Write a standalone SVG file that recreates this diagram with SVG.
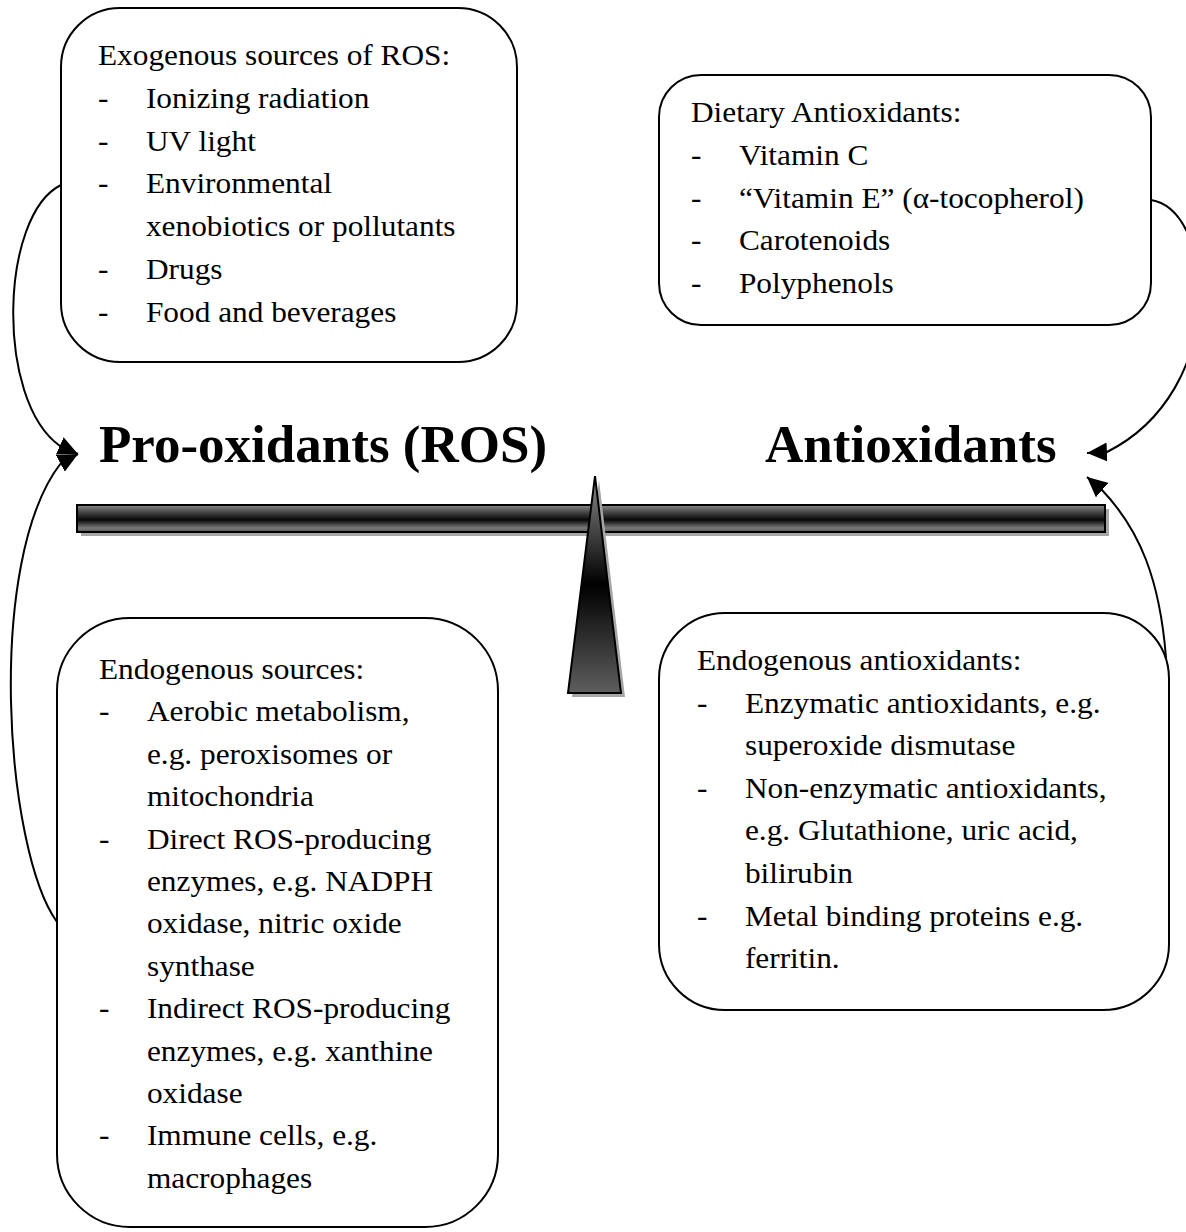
<svg xmlns="http://www.w3.org/2000/svg" width="1186" height="1232" viewBox="0 0 1186 1232">
<style>
.box{fill:#fff;stroke:#000;stroke-width:2}
.t{font-family:"Liberation Serif","Times New Roman",serif;font-size:29px;fill:#000}
.title{font-family:"Liberation Serif","Times New Roman",serif;font-size:53px;font-weight:bold;fill:#000}
.conn{fill:none;stroke:#000;stroke-width:2;marker-end:url(#ah)}
.shadow{fill:#a6a6a6}
</style>
<defs>
<marker id="ah" markerUnits="userSpaceOnUse" markerWidth="20" markerHeight="19" refX="20" refY="9.5" orient="auto" viewBox="0 0 20 19">
<path d="M0,0 L20,9.5 L0,19 Z" fill="#000"/>
</marker>
<linearGradient id="beamg" x1="0" y1="0" x2="0" y2="1">
<stop offset="0" stop-color="#8a8a8a"/>
<stop offset="0.25" stop-color="#4a4a4a"/>
<stop offset="0.55" stop-color="#080808"/>
<stop offset="0.85" stop-color="#7a7a7a"/>
<stop offset="1" stop-color="#555"/>
</linearGradient>
<linearGradient id="fulg" x1="0" y1="0" x2="0" y2="1">
<stop offset="0" stop-color="#8a8a8a"/>
<stop offset="0.5" stop-color="#000"/>
<stop offset="1" stop-color="#5e5e5e"/>
</linearGradient>
</defs>

<g id="exogenous">
<rect class="box" x="61" y="8" width="456" height="354" rx="59" ry="59"/>
<g transform="translate(98 0) scale(1.08 1)">
<text class="t" x="0" y="65">Exogenous sources of ROS:</text>
<text class="t" x="0" y="107.8">-</text><text class="t" x="44.4" y="107.8">Ionizing radiation</text>
<text class="t" x="0" y="150.6">-</text><text class="t" x="44.4" y="150.6">UV light</text>
<text class="t" x="0" y="193.4">-</text><text class="t" x="44.4" y="193.4">Environmental</text>
<text class="t" x="44.4" y="236.2">xenobiotics or pollutants</text>
<text class="t" x="0" y="279">-</text><text class="t" x="44.4" y="279">Drugs</text>
<text class="t" x="0" y="321.8">-</text><text class="t" x="44.4" y="321.8">Food and beverages</text>
</g>
</g>

<g id="dietary">
<rect class="box" x="659" y="75" width="492" height="250" rx="42" ry="42"/>
<g transform="translate(691 0) scale(1.08 1)">
<text class="t" x="0" y="122">Dietary Antioxidants:</text>
<text class="t" x="0" y="164.8">-</text><text class="t" x="44.4" y="164.8">Vitamin C</text>
<text class="t" x="0" y="207.6">-</text><text class="t" x="44.4" y="207.6">&#8220;Vitamin E&#8221; (&#945;-tocopherol)</text>
<text class="t" x="0" y="250.4">-</text><text class="t" x="44.4" y="250.4">Carotenoids</text>
<text class="t" x="0" y="293.2">-</text><text class="t" x="44.4" y="293.2">Polyphenols</text>
</g>
</g>

<g id="endogenous-sources">
<rect class="box" x="57" y="618" width="441" height="609" rx="73" ry="73"/>
<g transform="translate(99 0) scale(1.08 1)">
<text class="t" x="0" y="679">Endogenous sources:</text>
<text class="t" x="0" y="721.4">-</text><text class="t" x="44.4" y="721.4">Aerobic metabolism,</text>
<text class="t" x="44.4" y="763.8">e.g. peroxisomes or</text>
<text class="t" x="44.4" y="806.2">mitochondria</text>
<text class="t" x="0" y="848.6">-</text><text class="t" x="44.4" y="848.6">Direct ROS-producing</text>
<text class="t" x="44.4" y="891">enzymes, e.g. NADPH</text>
<text class="t" x="44.4" y="933.4">oxidase, nitric oxide</text>
<text class="t" x="44.4" y="975.8">synthase</text>
<text class="t" x="0" y="1018.2">-</text><text class="t" x="44.4" y="1018.2">Indirect ROS-producing</text>
<text class="t" x="44.4" y="1060.6">enzymes, e.g. xanthine</text>
<text class="t" x="44.4" y="1103">oxidase</text>
<text class="t" x="0" y="1145.4">-</text><text class="t" x="44.4" y="1145.4">Immune cells, e.g.</text>
<text class="t" x="44.4" y="1187.8">macrophages</text>
</g>
</g>

<g id="endogenous-antioxidants">
<rect class="box" x="659" y="613" width="510" height="397" rx="66" ry="66"/>
<g transform="translate(697 0) scale(1.08 1)">
<text class="t" x="0" y="670">Endogenous antioxidants:</text>
<text class="t" x="0" y="712.6">-</text><text class="t" x="44.4" y="712.6">Enzymatic antioxidants, e.g.</text>
<text class="t" x="44.4" y="755.2">superoxide dismutase</text>
<text class="t" x="0" y="797.8">-</text><text class="t" x="44.4" y="797.8">Non-enzymatic antioxidants,</text>
<text class="t" x="44.4" y="840.4">e.g. Glutathione, uric acid,</text>
<text class="t" x="44.4" y="883">bilirubin</text>
<text class="t" x="0" y="925.6">-</text><text class="t" x="44.4" y="925.6">Metal binding proteins e.g.</text>
<text class="t" x="44.4" y="968.2">ferritin.</text>
</g>
</g>

<g id="balance">
<rect class="shadow" x="81" y="509" width="1028" height="27"/>
<rect x="77" y="505" width="1028" height="27" fill="url(#beamg)" stroke="#000" stroke-width="2"/>
<polygon class="shadow" points="599,480 625,697 572,697"/>
<polygon points="595,476 621,693 568,693" fill="url(#fulg)" stroke="#000" stroke-width="2" stroke-linejoin="miter"/>
</g>

<g id="pro-oxidants">
<text class="title" x="99" y="462">Pro-oxidants (ROS)</text>
</g>
<g id="antioxidants">
<text class="title" x="765" y="462">Antioxidants</text>
</g>

<g id="connectors">
<path class="conn" d="M61,185 C0,215 -5,400 60,446 L78,454"/>
<path class="conn" d="M57,922 C5,850 -15,560 61,463 L78,454"/>
<path class="conn" d="M1151,200 C1215,210 1230,390 1107,452 L1087,453"/>
<path class="conn" d="M1166,658 C1160,580 1140,530 1102,490 L1087,477"/>
</g>
</svg>
